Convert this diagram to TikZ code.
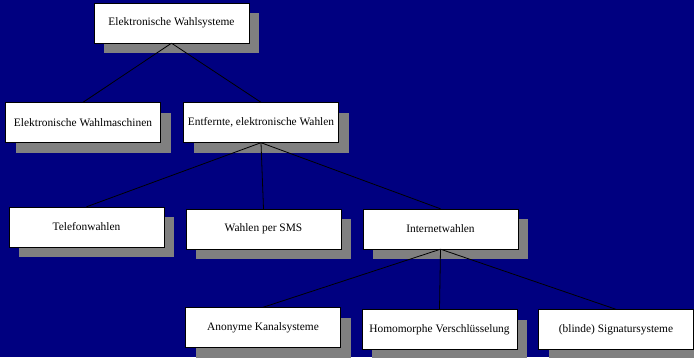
\documentclass[tikz,border=0pt]{standalone}
\usepackage{fontspec}
\setmainfont{Liberation Serif}
\usepackage{tikz}
\usetikzlibrary{shadows}
\definecolor{WahlBackground}{RGB}{0,0,128}
\definecolor{WahlShadow}{RGB}{128,128,128}

\begin{document}
\begin{tikzpicture}[x=1pt,y=1pt,
  wbox/.style={rectangle,draw=black,fill=white,minimum width=155pt,minimum height=40pt,inner sep=0pt,
    font=\fontsize{11.4}{13}\selectfont,
    drop shadow={shadow xshift=10pt,shadow yshift=-10pt,fill=WahlShadow,opacity=1}},
  wline/.style={black,line width=0.8pt}]
    \useasboundingbox (0,0) rectangle (694,357);
    \fill[WahlBackground] (0,0) rectangle (694,357);
    % level 0
    \node[wbox](root) at(171.5,334) {Elektronische Wahlsysteme};
    % level 1
    \node[wbox](maschinen) at(83,234.5) {Elektronische Wahlmaschinen};
    \node[wbox](fern) at(261,234.5) {Entfernte, elektronische Wahlen};
    % level 2
    \node[wbox](telefon) at(86.5,130) {Telefonwahlen};
    \node[wbox](sms) at(263.5,128) {Wahlen per SMS};
    \node[wbox](internet) at(440.5,128) {Internetwahlen};
    % level 3
    \node[wbox](anonym) at(263,29.5) {Anonyme Kanalsysteme};
    \node[wbox](homomorph) at(439.5,27.5) {Homomorphe Verschlüsselung};
    \node[wbox](signatur) at(616,27.5) {(blinde) Signatursysteme};
    \foreach \a/\b in %
    {root/maschinen,root/fern,fern/telefon,fern/sms,fern/internet,
     internet/anonym,internet/homomorph,internet/signatur} {
       \draw[wline] (\a.south) -- (\b.north);
    }
\end{tikzpicture}
\end{document}
